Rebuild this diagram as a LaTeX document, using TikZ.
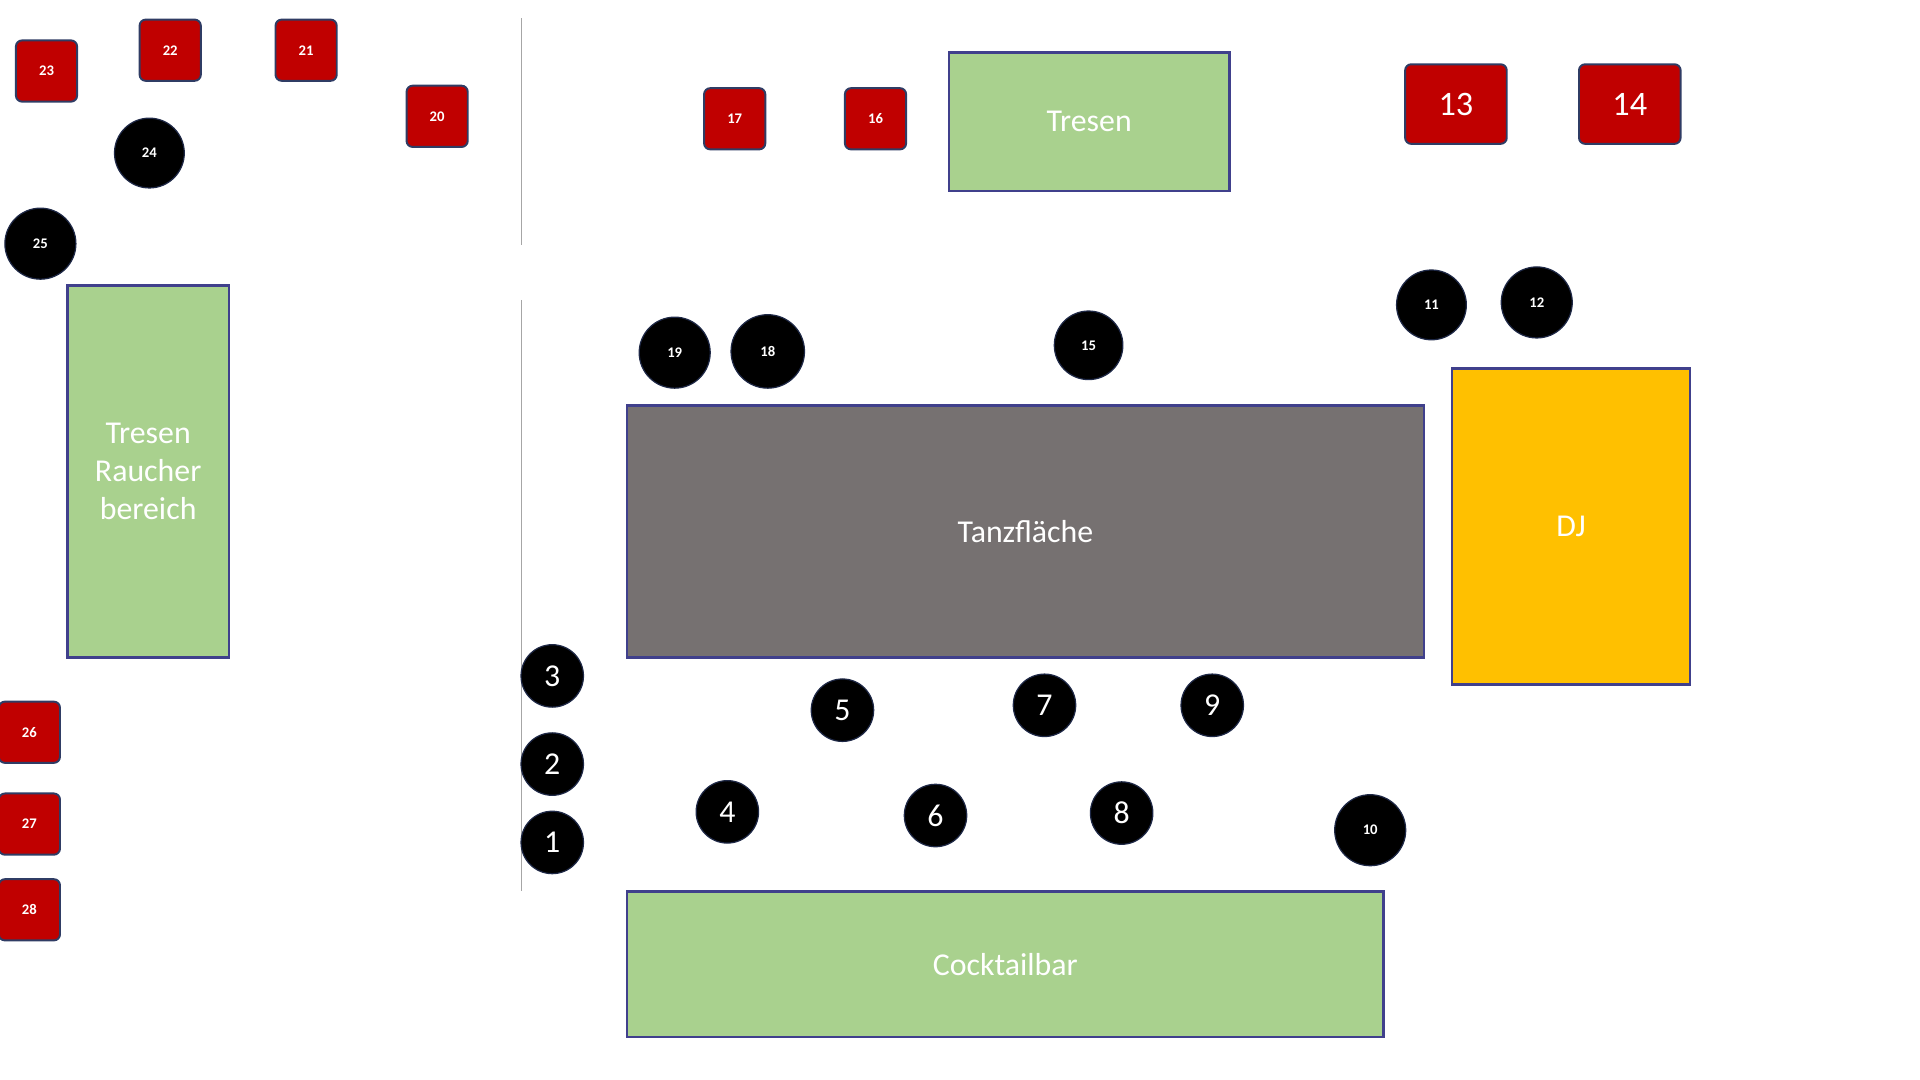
\documentclass[tikz,border=0pt]{standalone}
\usepackage{fontspec}
\setmainfont{Carlito}
\begin{document}
\begin{tikzpicture}[x=1pt,y=-1pt,
 bd/.style={draw=black!40!blue!50!gray,line width=2pt},
 area/.style={bd,fill=green!50!gray!10!,fill={rgb,255:red,169;green,209;blue,142},text=white,font=\fontsize{26}{31}\selectfont,align=center,inner sep=0pt},
 rsq/.style={draw={rgb,255:red,47;green,60;blue,100},line width=1.6pt,fill={rgb,255:red,192;green,0;blue,0},rounded corners=5pt,text=white,inner sep=0pt,font=\fontsize{12}{14}\selectfont\bfseries},
 bc/.style={circle,fill=black,draw={rgb,255:red,30;green,40;blue,70},line width=1pt,text=white,inner sep=0pt,font=\fontsize{12}{14}\selectfont\bfseries},
 big/.style={font=\fontsize{26}{30}\selectfont},
 wall/.style={draw=gray!70,line width=1pt}]
\useasboundingbox (0,0) rectangle (1568,882);
% walls
\coordinate (w1a) at (426,15); \coordinate (w1b) at (426,200);
\coordinate (w2a) at (426,245); \coordinate (w2b) at (426,728);
\draw[wall] (w1a)--(w1b); \draw[wall] (w2a)--(w2b);
% areas
\node[area,minimum width=229pt,minimum height=113pt] (tresen) at (889.5,99.5) {Tresen};
\node[area,minimum width=132pt,minimum height=304pt] (raucher) at (121,385) {Tresen\\Raucher\\bereich};
\node[area,bd,fill={rgb,255:red,118;green,113;blue,113},minimum width=651pt,minimum height=206pt] (tanz) at (837.5,434) {Tanzfläche};
\node[area,bd,fill={rgb,255:red,255;green,192;blue,0},minimum width=194pt,minimum height=258pt] (dj) at (1283,430) {DJ};
\node[area,minimum width=618pt,minimum height=119pt] (cocktail) at (821,787.5) {Cocktailbar};
% red squares
\foreach \n/\x/\y in {23/38/58,22/139/41,21/250/41,20/357/95,17/600/97,16/715/97,26/24/598,27/24/673,28/24/743}
  \node[rsq,minimum size=50pt] (t\n) at (\x,\y) {\n};
\node[rsq,minimum width=83pt,minimum height=65pt,font=\fontsize{28}{32}\selectfont] (t13) at (1189,85) {13};
\node[rsq,minimum width=83pt,minimum height=65pt,font=\fontsize{28}{32}\selectfont] (t14) at (1331,85) {14};
% black circles small labels
\foreach \n/\x/\y/\d in {24/122/125/57,25/33/199/58,19/551/288/58,18/627/287/60,15/889/282/56,11/1169/249/57,12/1255/247/58,10/1119/678/58}
  \node[bc,minimum size=\d pt] (t\n) at (\x,\y) {\n};
\foreach \n/\x/\y in {3/451/552,2/451/624,1/451/688,5/688/580,7/853/576,9/990/576,4/594/663,6/764/666,8/916/664}
  \node[bc,big,minimum size=51pt] (t\n) at (\x,\y) {\n};
\end{tikzpicture}
\end{document}
